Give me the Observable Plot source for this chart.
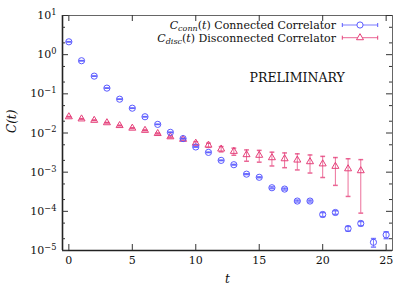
<!DOCTYPE html>
<html>
<head>
<meta charset="utf-8">
<script src="https://cdn.jsdelivr.net/npm/d3@7"></script>
<script src="https://cdn.jsdelivr.net/npm/@observablehq/plot@0.6"></script>
<style>
  html, body { margin: 0; padding: 0; background: #fff; }
  #chart { width: 415px; height: 291px; }
  #chart svg text { font-family: "DejaVu Serif", serif; }
</style>
</head>
<body>
<div id="chart"></div>
<script>
// ---- data ----
const tConn = [0,1,2,3,4,5,6,7,8,9,10,11,12,13,14,15,16,17,18,19,20,21,22,23,24,25];
const connValues = [2.13, 0.70, 0.283, 0.14, 0.073, 0.043, 0.026, 0.0166, 0.0104, 0.0072,
  0.0044, 0.0032, 0.0020, 0.00155, 0.00089, 0.00074, 0.00040, 0.00037, 0.000183, 0.000183,
  0.000083, 0.0000935, 0.0000363, 0.000049, 0.0000162, 0.0000251];
const connErrors = [0.02, 0.005, 0.002, 0.001, 0.0005, 0.0003, 0.0002, 0.0001, 0.00008, 0.00006,
  0.00005, 0.00004, 0.00003, 0.00003, 0.00002, 0.00002, 0.00002, 0.00002, 0.00001, 0.00001,
  0.00001, 0.00001, 0.000005, 0.000006, 0.000004, 0.000005];

const tDisc = [0,1,2,3,4,5,6,7,8,9,10,11,12,13,14,15,16,17,18,19,20,21,22,23];
const discValues = [0.026, 0.0229, 0.0211, 0.0183, 0.0155, 0.0133, 0.0117, 0.0097, 0.0080, 0.0069,
  0.0055, 0.0049, 0.0039, 0.0034, 0.0028, 0.0027, 0.00234, 0.0022, 0.00204, 0.00185,
  0.00163, 0.00141, 0.00122, 0.00109];
const discErrors = [0.0004, 0.0004, 0.0003, 0.0003, 0.0003, 0.0003, 0.0003, 0.0003, 0.0004, 0.0004,
  0.0005, 0.0006, 0.0006, 0.0007, 0.0009, 0.0009, 0.0009, 0.0009, 0.0009, 0.0009,
  0.0009, 0.00095, 0.00098, 0.001];

const xTicks = [0, 5, 10, 15, 20, 25];
const yTicks = [10, 1, 0.1, 0.01, 0.001, 0.0001, 0.00001];
const yMinorTicks = [5, 2, 0.5, 0.2, 0.05, 0.02, 0.005, 0.002, 0.0005, 0.0002, 0.00005, 0.00002];
const seriesLabels = ["Connected Correlator", "Disconnected Correlator"];

// ---- tables ----
const conn = tConn.map((t, i) => ({t, v: connValues[i], e: connErrors[i]}));
const disc = tDisc.map((t, i) => ({t, v: discValues[i], e: discErrors[i]}));

const blue = "#5a5aff";
const red = "#e5407a";
const FONT = "DejaVu Serif";

const W = 415, H = 291, mL = 62, mR = 23, mT = 15, mB = 41;
const fw = W - mL - mR, fh = H - mT - mB;

// tick label "10^e" -> superscript added after rendering
const fmt = d => "10^" + Math.round(Math.log10(d));

const hline = {draw(ctx, size) { const w = Math.sqrt(size / Math.PI); ctx.moveTo(-w, 0); ctx.lineTo(w, 0); }};
const circleBar = {draw(ctx, size) { const r = Math.sqrt(size / Math.PI); ctx.moveTo(r, 0); ctx.arc(0, 0, r, 0, 2 * Math.PI); }};

const low = d => Math.max(d.v - d.e, 1e-5);

const plot = Plot.plot({
  width: W, height: H,
  marginLeft: mL, marginRight: mR, marginTop: mT, marginBottom: mB,
  style: {fontFamily: FONT, fontSize: "11px", background: "#fff", color: "#111", overflow: "visible"},
  x: {domain: [-0.5, 25.5]},
  y: {type: "log", domain: [1e-5, 10]},
  marks: [
    Plot.frame({stroke: "#666", strokeWidth: 1}),
    Plot.ruleX([-0.5], {stroke: "#222", strokeWidth: 1.6}),
    Plot.ruleY([1e-5], {stroke: "#222", strokeWidth: 1.6}),
    Plot.axisX(xTicks, {tickSize: 0, tickPadding: 6, label: null, fontSize: 11, fontFamily: FONT}),
    Plot.axisY(yTicks, {tickSize: 0, tickPadding: 6, tickFormat: fmt, label: null, fontSize: 11, fontFamily: FONT}),
    // inward major ticks
    Plot.ruleX(xTicks, {insetTop: fh - 6, stroke: "#333"}),
    Plot.ruleX(xTicks, {insetBottom: fh - 6, stroke: "#333"}),
    Plot.ruleY(yTicks, {insetRight: fw - 6, stroke: "#333"}),
    Plot.ruleY(yTicks, {insetLeft: fw - 6, stroke: "#333"}),
    Plot.ruleY(yMinorTicks, {insetRight: fw - 3, stroke: "#333"}),
    Plot.ruleY(yMinorTicks, {insetLeft: fw - 3, stroke: "#333"}),
    // disconnected: error bars + triangles
    Plot.ruleX(disc, {x: "t", y1: low, y2: d => d.v + d.e, stroke: red, strokeOpacity: 0.75}),
    Plot.dot(disc, {x: "t", y: d => d.v + d.e, symbol: hline, r: 2.4, stroke: red, strokeOpacity: 0.8}),
    Plot.dot(disc, {x: "t", y: low, symbol: hline, r: 2.4, stroke: red, strokeOpacity: 0.8}),
    Plot.dot(disc, {x: "t", y: "v", symbol: "triangle", r: 2.6, stroke: red, strokeWidth: 1}),
    // connected: error bars + circles
    Plot.ruleX(conn, {x: "t", y1: low, y2: d => d.v + d.e, stroke: blue, strokeOpacity: 0.8}),
    Plot.dot(conn, {x: "t", y: d => d.v + d.e, symbol: hline, r: 2.6, stroke: blue, strokeOpacity: 0.8}),
    Plot.dot(conn, {x: "t", y: low, symbol: hline, r: 2.6, stroke: blue, strokeOpacity: 0.8}),
    Plot.dot(conn, {x: "t", y: "v", symbol: circleBar, r: 3.1, stroke: blue, strokeWidth: 1}),
    // labels
    Plot.text(["C(t)"], {frameAnchor: "left", dx: -50, rotate: -90, fontStyle: "italic", fontSize: 12, fontFamily: FONT, fill: "#111"}),
    Plot.text(["t"], {frameAnchor: "bottom", dy: 32, fontStyle: "italic", fontSize: 12, fontFamily: FONT, fill: "#111"}),
    Plot.text(["PRELIMINARY"], {frameAnchor: "top-left", dx: 234.7, dy: 58, textAnchor: "middle", fontSize: 12.5, fontFamily: FONT, fill: "#111"})
  ]
});

document.getElementById("chart").appendChild(plot);

const svg = d3.select(plot);

// superscript exponents on the y-axis tick labels
svg.selectAll('g[aria-label="y-axis tick label"] text').each(function() {
  const s = this.textContent;
  if (s.indexOf("^") < 0) return;
  const [base, exp] = s.split("^");
  const el = d3.select(this);
  el.text(base);
  el.append("tspan").attr("dy", "-0.5em").attr("font-size", "0.75em").text(exp.replace("-", "−"));
});

// ---- legend (text with subscripts) ----
const leg = svg.append("g").attr("font-family", FONT).attr("font-size", 11).attr("fill", "#111");
const entries = [
  {sub: "conn", label: seriesLabels[0], color: blue, y: 25, sym: "circle"},
  {sub: "disc", label: seriesLabels[1], color: red, y: 37.7, sym: "triangle"}
];
entries.forEach(e => {
  const txt = leg.append("text").attr("x", 336).attr("y", e.y).attr("dy", "0.35em").attr("text-anchor", "end");
  txt.append("tspan").attr("font-style", "italic").text("C");
  txt.append("tspan").attr("font-style", "italic").attr("font-size", 8).attr("dy", 2).text(e.sub);
  txt.append("tspan").attr("dy", -2).text("(");
  txt.append("tspan").attr("font-style", "italic").text("t");
  txt.append("tspan").text(") " + e.label);
  const g = leg.append("g").attr("stroke", e.color).attr("fill", "none");
  g.append("line").attr("x1", 342.3).attr("x2", 377.7).attr("y1", e.y).attr("y2", e.y).attr("stroke-opacity", 0.8);
  g.append("line").attr("x1", 342.3).attr("x2", 342.3).attr("y1", e.y - 2).attr("y2", e.y + 2);
  g.append("line").attr("x1", 377.7).attr("x2", 377.7).attr("y1", e.y - 2).attr("y2", e.y + 2);
  if (e.sym === "circle") {
    g.append("circle").attr("cx", 360).attr("cy", e.y).attr("r", 3.1).attr("fill", "#fff");
  } else {
    g.append("path").attr("transform", `translate(360,${e.y})`).attr("d", d3.symbol(d3.symbolTriangle, Math.PI * 2.6 * 2.6)()).attr("fill", "#fff");
  }
});
</script>
</body>
</html>
